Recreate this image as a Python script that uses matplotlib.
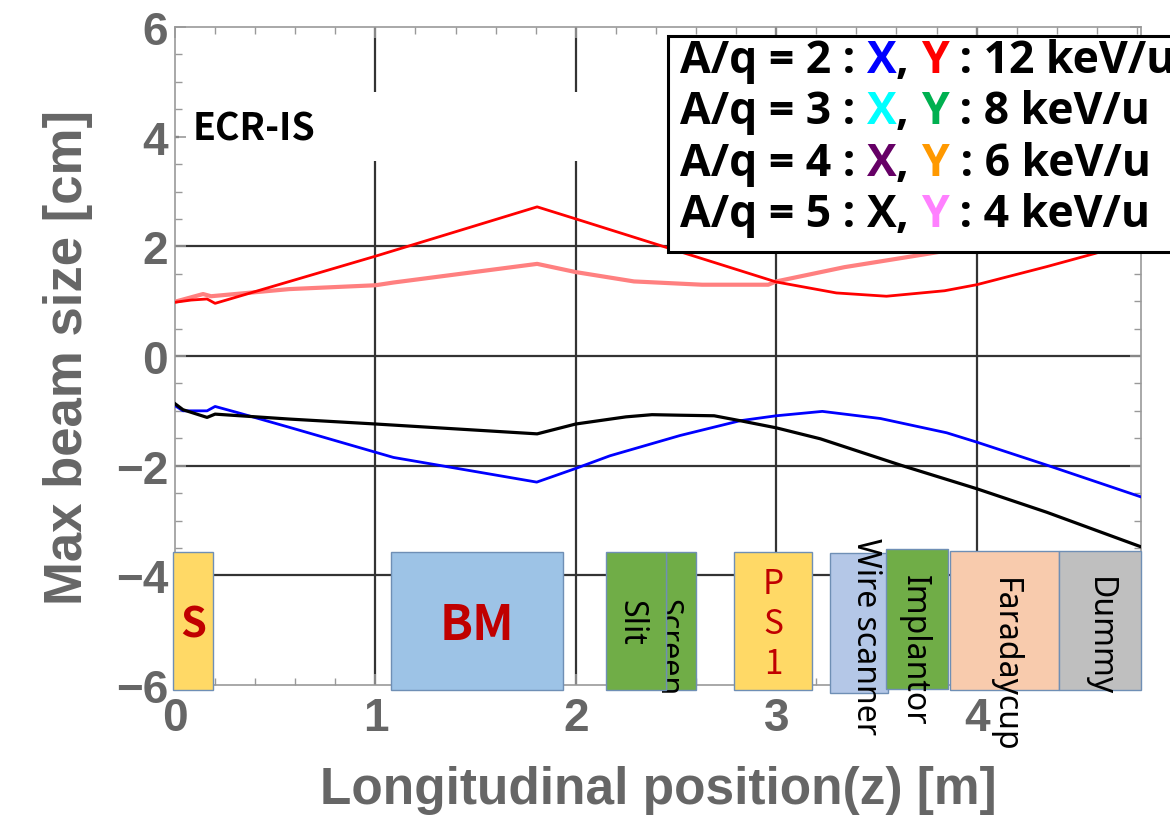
import matplotlib
matplotlib.use("Agg")
import matplotlib.pyplot as plt
from matplotlib.patches import Rectangle
from matplotlib.ticker import MultipleLocator

# ---- beam envelope data ----
z_red = [0.0, 0.08, 0.16, 0.2, 1.0, 1.807, 2.0, 3.0, 3.3, 3.55, 3.84, 4.0, 4.35, 4.59, 4.82]
y_red = [0.98, 1.02, 1.04, 0.96, 1.82, 2.72, 2.50, 1.35, 1.15, 1.09, 1.19, 1.30, 1.63, 1.87, 2.12]

z_pink = [0.0, 0.14, 0.18, 0.3, 0.57, 1.0, 1.09, 1.807, 2.0, 2.29, 2.63, 2.96, 3.0, 3.34, 3.75, 4.3, 4.82]
y_pink = [0.99, 1.13, 1.09, 1.13, 1.22, 1.29, 1.34, 1.68, 1.53, 1.36, 1.30, 1.30, 1.36, 1.62, 1.86, 2.2, 2.5]

z_blue = [0.0, 0.04, 0.16, 0.2, 0.31, 0.57, 1.09, 1.805, 2.0, 2.17, 2.52, 2.82, 3.0, 3.23, 3.52, 3.85, 4.0, 4.35, 4.82]
y_blue = [-0.905, -1.0, -1.0, -0.92, -1.03, -1.30, -1.85, -2.30, -2.05, -1.82, -1.45, -1.18, -1.09, -1.01, -1.14, -1.40, -1.57, -1.99, -2.57]

z_black = [0.0, 0.04, 0.16, 0.2, 0.57, 1.0, 1.807, 2.0, 2.25, 2.38, 2.52, 2.69, 2.82, 3.0, 3.22, 3.62, 4.0, 4.35, 4.82]
y_black = [-0.87, -0.98, -1.12, -1.06, -1.15, -1.24, -1.42, -1.24, -1.11, -1.07, -1.08, -1.09, -1.18, -1.31, -1.51, -1.99, -2.42, -2.85, -3.48]

# ---- beamline elements ----
elem_names = ["S", "BM", "Slit", "Screen", "PS1", "Wire scanner", "Implantor", "Faradaycup", "Dummy"]
elem_start = [-0.01, 1.08, 2.15, 2.45, 2.79, 3.27, 3.55, 3.865, 4.41]
elem_end = [0.19, 1.935, 2.45, 2.60, 3.18, 3.56, 3.855, 4.41, 4.82]
elem_top = [-3.57, -3.57, -3.57, -3.57, -3.57, -3.59, -3.52, -3.55, -3.55]
elem_bottom = [-6.10, -6.10, -6.10, -6.10, -6.10, -6.14, -6.07, -6.10, -6.10]
elem_colors = ["#ffd966", "#9dc3e6", "#70ad47", "#70ad47", "#ffd966", "#b4c7e7", "#70ad47", "#f8cbad", "#bfbfbf"]

legend_rows = [
    ("A/q = 2 : ", "X", "#0000ff", "Y", "#ff0000", " : 12 keV/u"),
    ("A/q = 3 : ", "X", "#00ffff", "Y", "#00b050", " : 8 keV/u"),
    ("A/q = 4 : ", "X", "#660066", "Y", "#ff9900", " : 6 keV/u"),
    ("A/q = 5 : ", "X", "#000000", "Y", "#ff80ff", " : 4 keV/u"),
]

gray = "#666666"
kr = ["Noto Sans CJK KR", "DejaVu Sans"]

fig = plt.figure(figsize=(11.7, 8.37), dpi=100)
ax = fig.add_axes([175/1170, 1-686/837, (1141-175)/1170, (686-28)/837])

ax.set_xlim(0, 4.82)
ax.set_ylim(-6, 6)

## Grid (Mathematica style)
for gx in [1, 2, 3, 4]:
    ax.axvline(gx, color="#333333", lw=1.6, zorder=1)
for gy in [-4, -2, 0, 2, 4]:
    ax.axhline(gy, color="#333333", lw=1.6, zorder=1)
# white label background hiding part of the grid
ax.add_patch(Rectangle((0.02, 3.56), 2.6, 1.26, facecolor="white", edgecolor="none", zorder=1.5))

## Curves
ax.plot(z_pink, y_pink, color="#ff8080", lw=3.0, zorder=3)
ax.plot(z_red, y_red, color="#ff0000", lw=2.0, zorder=3)
ax.plot(z_blue, y_blue, color="#0000ff", lw=2.0, zorder=3)
ax.plot(z_black, y_black, color="#000000", lw=2.3, zorder=3)

## Frame and ticks
for sp in ax.spines.values():
    sp.set_color("#999999")
    sp.set_linewidth(1.2)
ax.xaxis.set_major_locator(MultipleLocator(1))
ax.xaxis.set_minor_locator(MultipleLocator(0.2))
ax.yaxis.set_major_locator(MultipleLocator(2))
ax.yaxis.set_minor_locator(MultipleLocator(0.5))
ax.tick_params(which="both", direction="in", top=True, right=True, color="#999999")
ax.tick_params(which="major", length=8, width=1.2, labelsize=33, labelcolor=gray)
ax.tick_params(which="minor", length=5, width=1.0)
ax.tick_params(axis="x", which="major", pad=8)
ax.tick_params(axis="y", which="major", pad=5)
for lab in ax.get_xticklabels() + ax.get_yticklabels():
    lab.set_fontweight("bold")
    lab.set_family("Liberation Sans")

ax.set_xlabel("Longitudinal position(z) [m]", fontsize=37, fontweight="bold", color=gray,
              family="Liberation Sans", labelpad=18)
ax.set_ylabel("Max beam size [cm]", fontsize=38, fontweight="bold", color=gray,
              family="Liberation Sans", labelpad=16)

ax.text(0.09, 4.15, "ECR-IS", fontsize=27, fontweight="bold", family=kr, va="center", zorder=4)

## Beamline element boxes
text_x = {"Slit": 2.275, "Wire scanner": 3.445, "Implantor": 3.69, "Faradaycup": 4.14, "Dummy": 4.61}
text_y = {"Slit": -4.85, "Wire scanner": -5.1, "Implantor": -5.35, "Faradaycup": -5.62, "Dummy": -5.1}
for i, name in enumerate(elem_names):
    x0, x1 = elem_start[i], elem_end[i]
    zo = 6 if name == "Slit" else 5
    ax.add_patch(Rectangle((x0, elem_bottom[i]), x1 - x0, elem_top[i] - elem_bottom[i],
                           facecolor=elem_colors[i], edgecolor="#6f8fb5", lw=1.0,
                           clip_on=False, zorder=zo))
    xc = 0.5 * (x0 + x1)
    if name == "S":
        ax.text(xc, -4.9, name, color="#c00000", fontsize=30, fontweight="bold", family=kr,
                ha="center", va="center", zorder=7, clip_on=False)
    elif name == "BM":
        ax.text(xc, -4.9, name, color="#c00000", fontsize=35, fontweight="bold", family=kr,
                ha="center", va="center", zorder=7, clip_on=False)
    elif name == "PS1":
        ax.text(xc, -4.88, "P\nS\n1", color="#c00000", fontsize=24, family=kr,
                ha="center", va="center", linespacing=1.2, zorder=7, clip_on=False)
    elif name == "Screen":
        ax.text(2.455, -5.3, name, color="black", fontsize=22, family="Noto Sans",
                ha="center", va="center", rotation=-90, zorder=5.5, clip_on=False)
    else:
        ax.text(text_x[name], text_y[name], name, color="black", fontsize=23, family="Noto Sans",
                ha="center", va="center", rotation=-90, zorder=7, clip_on=False)

## Legend box (runs past the right edge of the figure)
ax.add_patch(Rectangle((668/1170, 1-253/837), 0.5, (253-37)/837, transform=fig.transFigure,
                       facecolor="white", edgecolor="black", lw=2.2, zorder=10, clip_on=False))
base_y = [84, 135, 187, 238]
leg_font = dict(fontsize=32, fontweight="bold", family=["Open Sans", "DejaVu Sans"])
for row, yb in zip(legend_rows, base_y):
    pieces = [(row[1], row[2]), (", ", "black"), (row[3], row[4]), (row[5], "black")]
    prev = ax.text(680/1170, 1-yb/837, row[0], color="black", va="bottom",
                   transform=fig.transFigure, zorder=11, clip_on=False, **leg_font)
    for txt, col in pieces:
        prev = ax.annotate(txt, xy=(1, 0), xycoords=prev, va="bottom", ha="left", color=col,
                           zorder=11, annotation_clip=False, **leg_font)

fig.savefig("out.png", dpi=100)
